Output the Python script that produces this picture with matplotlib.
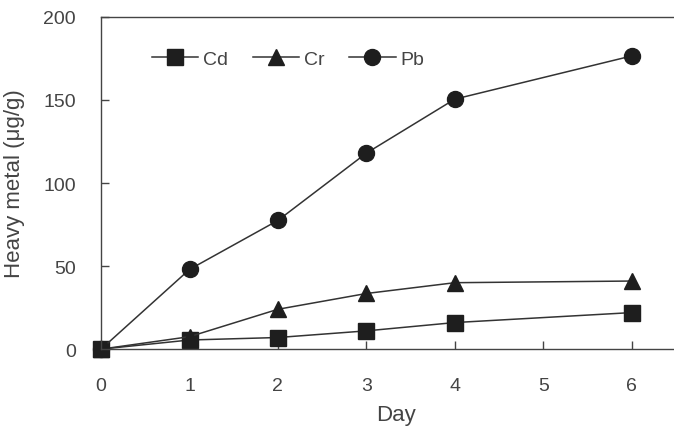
import matplotlib.pyplot as plt

# data
days = [0, 1, 2, 3, 4, 6]
cd = [0, 5.5, 7, 11, 16, 22]
cr = [0, 7.5, 24, 33.5, 40, 41]
pb = [0, 48, 77.5, 118, 150.5, 176.5]

plt.rcParams['font.family'] = ['Liberation Sans', 'DejaVu Sans']

fig = plt.figure(figsize=(6.74, 4.27), dpi=100)
# axes runs a little past the right edge (the reference is cropped there)
ax = fig.add_axes([0.150, 0.180, 0.875, 0.778])

line_c = '#333333'
mark_c = '#1e1e1e'
ax.plot(days, cd, color=line_c, lw=1.1, marker='s', ms=11, mfc=mark_c, mec=mark_c, label='Cd')
ax.plot(days, cr, color=line_c, lw=1.1, marker='^', ms=11, mfc=mark_c, mec=mark_c, label='Cr')
ax.plot(days, pb, color=line_c, lw=1.1, marker='o', ms=11.5, mfc=mark_c, mec=mark_c, label='Pb')

ax.set_xlim(0, 6.67)
ax.set_ylim(0, 200)
ax.set_xticks(range(7))
ax.set_yticks([0, 50, 100, 150, 200])
for s in ['left', 'bottom', 'top']:
    ax.spines[s].set_color('#444444')
    ax.spines[s].set_linewidth(1.0)
ax.spines['right'].set_visible(False)
ax.tick_params(direction='in', length=6, width=1, color='#444444',
               labelsize=14, labelcolor='#444444')
ax.tick_params(axis='x', pad=20)
ax.tick_params(axis='y', pad=18)

ax.set_xlabel('Day', fontsize=16, color='#444444', labelpad=7)
ax.set_ylabel('Heavy metal (μg/g)', fontsize=16, color='#444444', labelpad=13)

ax.legend(loc='center left', bbox_to_anchor=(0.086, 0.873), ncol=3, frameon=False,
          fontsize=14, handlelength=2.4, columnspacing=1.25, handletextpad=0.25,
          borderpad=0, borderaxespad=0, labelcolor='#444444')

for artist in ax.lines:
    artist.set_clip_on(False)

fig.savefig('out.png', dpi=100)
